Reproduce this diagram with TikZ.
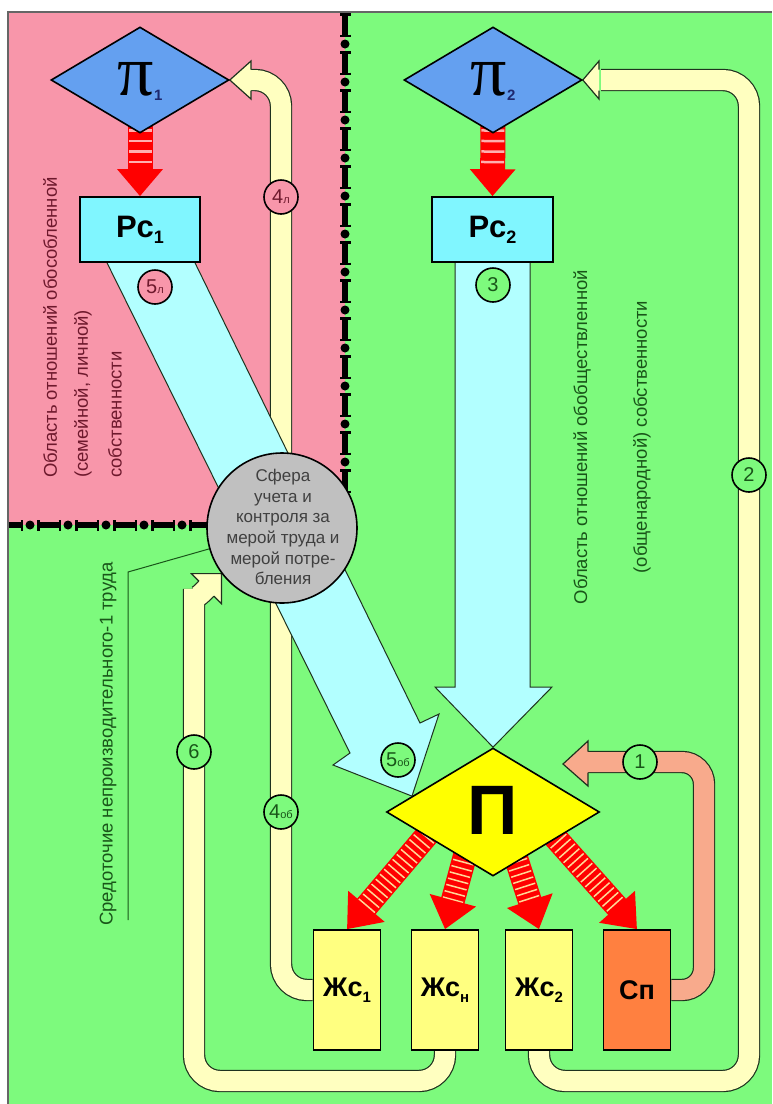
\documentclass[tikz,border=0pt]{standalone}
\usepackage{fontspec}
\setmainfont{Liberation Sans}
\newfontfamily\pifont{Liberation Serif}
\usetikzlibrary{shapes.geometric,arrows.meta,calc}
\pgfdeclarelayer{bg}
\pgfdeclarelayer{mid}
\pgfsetlayers{bg,mid,main}
\definecolor{pinkbg}{RGB}{248,150,170}
\definecolor{greenbg}{RGB}{125,250,125}
\definecolor{piblue}{RGB}{100,160,240}
\definecolor{rccyan}{RGB}{128,246,255}
\definecolor{lightcyan}{RGB}{178,255,255}
\definecolor{bandyellow}{RGB}{255,255,192}
\definecolor{salmonband}{RGB}{248,170,140}
\definecolor{zhyellow}{RGB}{255,255,128}
\definecolor{sporange}{RGB}{255,128,64}
\definecolor{pyellow}{RGB}{255,255,0}
\definecolor{sphgrey}{RGB}{192,192,192}
\definecolor{darkredtext}{RGB}{110,25,45}
\definecolor{darkgreentext}{RGB}{25,85,25}
\definecolor{arrowred}{RGB}{255,0,0}
\definecolor{navysub}{RGB}{30,40,110}
\definecolor{bandedge}{RGB}{30,50,30}
\definecolor{stripepink}{RGB}{255,175,175}
\definecolor{stripeyellow}{RGB}{255,215,150}
\begin{document}
\begin{tikzpicture}[x=1pt,y=-1pt,
 diam/.style={diamond, draw=black, line width=1.6pt, fill=piblue, inner sep=0pt, minimum width=178pt, minimum height=106pt},
 rcbox/.style={rectangle, draw=black, line width=1.6pt, fill=rccyan, minimum width=120pt, minimum height=65pt, inner sep=0pt, font=\bfseries\fontsize{31}{31}\selectfont},
 zhbox/.style={rectangle, draw=black, line width=1.6pt, fill=zhyellow, minimum width=67pt, minimum height=120pt, inner sep=0pt, font=\bfseries\fontsize{27}{27}\selectfont},
 band/.style={draw=bandedge, line width=1.2pt, double=bandyellow, double distance=20pt, rounded corners=26pt},
 bandhead/.style={fill=bandyellow, draw=bandedge, line width=1.2pt, line join=miter},
 bluearrow/.style={fill=lightcyan, draw=bandedge, line width=1pt, line join=miter},
 lbl/.style={circle, draw=black, line width=1.6pt, minimum size=34pt, inner sep=0pt, font=\fontsize{20}{20}\selectfont},
 redshaft/.style={draw=arrowred, line width=24pt, -{Triangle[length=30pt,width=46pt]}},
 stripes/.style={draw=#1, line width=21pt, dash pattern=on 1.5pt off 5pt},
 regiontext/.style={rotate=90, anchor=west, font=\fontsize{18.5}{18.5}\selectfont, inner sep=0pt},
 chainbar/.style={black, line width=6pt, dash pattern=on 24pt off 14pt, dash phase=#1},
 chainbar/.default=0pt,
 chainserif/.style={black, line width=11pt, dash pattern=on 2.5pt off 19pt on 2.5pt off 14pt, dash phase=#1},
 chainserif/.default=0pt,
 chaindot/.style={black, line width=9pt, line cap=round, dash pattern=on 0pt off 38pt, dash phase=#1},
 chaindot/.default=7pt]
\useasboundingbox (0,0) rectangle (772,1104);

% ---------- main nodes ----------
\node[diam] (pi1) at (140,80) {};
\node[anchor=base, inner sep=0pt] at (140,95) {\pifont\fontsize{72}{72}\selectfont π\raisebox{-5pt}{\normalfont\bfseries\fontsize{15}{15}\selectfont\color{navysub}1}};
\node[diam] (pi2) at (493,80) {};
\node[anchor=base, inner sep=0pt] at (493,95) {\pifont\fontsize{72}{72}\selectfont π\raisebox{-5pt}{\normalfont\bfseries\fontsize{15}{15}\selectfont\color{navysub}2}};
\node[rcbox] (rc1) at (140,229.5) {Рс\raisebox{-6pt}{\fontsize{18}{18}\selectfont 1}};
\node[rcbox, minimum width=121pt] (rc2) at (492.5,229.5) {Рс\raisebox{-6pt}{\fontsize{18}{18}\selectfont 2}};
\node[diamond, draw=black, line width=1.6pt, fill=pyellow, inner sep=0pt, minimum width=213pt, minimum height=128pt] (P) at (493,812) {};
\node[font=\bfseries\fontsize{70}{70}\selectfont, inner sep=0pt] at (493,810) {П};
\node[zhbox] (zh1) at (347,990) {Жс\raisebox{-6pt}{\fontsize{15}{15}\selectfont 1}};
\node[zhbox] (zhn) at (445,990) {Жс\raisebox{-6pt}{\fontsize{15}{15}\selectfont н}};
\node[zhbox] (zh2) at (539,990) {Жс\raisebox{-6pt}{\fontsize{15}{15}\selectfont 2}};
\node[zhbox, fill=sporange] (sp) at (637,990) {Сп};
\node[circle, draw=black, line width=1.6pt, fill=sphgrey, minimum size=150pt, inner sep=0pt] (sphere) at (282,528) {};
\node[align=center, inner sep=0pt, text=black!75, font=\fontsize{17}{20.7}\selectfont] at (283,527) {Сфера\\учета и\\контроля за\\мерой труда и\\мерой потре-\\бления};
\coordinate (leadend) at (128,920);

% ---------- background ----------
\begin{pgfonlayer}{bg}
\fill[white] (0,0) rectangle (772,1104);
\fill[greenbg] (8,12) rectangle (772,1104);
\fill[pinkbg] (8,12) rectangle (345,525);
\draw[black!60, line width=2pt] (8,1104) -- (8,12) -- (772,12);
\draw[chainbar] (345,13) -- (345,530);
\draw[chainserif] (345,13) -- (345,530);
\draw[chaindot] (345,13) -- (345,530);
\draw[chainbar=10pt] (9,525) -- (240,525);
\draw[chainserif=10pt] (9,525) -- (240,525);
\draw[chaindot=17pt] (9,525) -- (240,525);
\node[regiontext, text=darkredtext] at (50,478) {Область отношений обособленной};
\node[regiontext, text=darkredtext] at (83,478) {(семейной, личной)};
\node[regiontext, text=darkredtext] at (115,478) {собственности};
\node[regiontext, anchor=center, text=darkgreentext] at (582,437) {Область отношений обобществленной};
\node[regiontext, anchor=center, text=darkgreentext] at (642,437) {(общенародной) собственности};
\node[regiontext, anchor=center, text=darkgreentext] at (108,744) {Средоточие непроизводительного-1 труда};
\draw[darkgreentext, line width=1pt] (sphere.196) -- (128,572) -- (leadend);
\end{pgfonlayer}

% ---------- connectors ----------
\begin{pgfonlayer}{mid}
% band 4
\draw[band] (zh1.west) -- (281,990) -- (281,80) -- (249,80);
\filldraw[bandhead] (251,69.5) -- (251,61) -- (pi1.east) -- (251,99) -- (251,90.5);
% band 6
\draw[band] (zhn.south) -- (445,1081) -- (194,1081) -- (194,615) .. controls (194,602) and (199,596) .. (207,588);
\filldraw[bandhead] ($(sphere.217)+(-22.5,7.5)$) -- ($(sphere.217)+(-30,0)$) -- (sphere.217) -- ($(sphere.217)+(0,30)$) -- ($(sphere.217)+(-7.5,22.5)$);
% band 2
\draw[band] (zh2.south) -- (539,1081) -- (749,1081) -- (749,80) -- (601,80);
\filldraw[bandhead] (599,69.5) -- (599,61) -- (pi2.east) -- (599,99) -- (599,90.5);
% band 1
\draw[band, double=salmonband, rounded corners=22pt] (sp.east) -- (704,990) -- (704,762) -- (586,762);
\filldraw[bandhead, fill=salmonband] (588,751.5) -- (588,741) -- (563,764) -- (588,786) -- (588,772.5);
% blue arrow 3
\filldraw[bluearrow] ($(rc2.south)+(-37.5,0)$) -- (455,687) -- (435,687) -- (P.north) -- (552,687) -- (530,687) -- ($(rc2.south)+(37.5,0)$);
% blue arrow 5
\filldraw[bluearrow] ($(rc1.south)+(-33,0)$) -- (350,753) -- (333,765) -- ($(P.west)!0.245!(P.north)$) -- (439,714) -- (420,723) -- ($(rc1.south)+(55,0)$);
% red striped arrows
\draw[redshaft, -{Triangle[length=27pt,width=44pt]}, line width=25pt] ($(pi1.south)+(0,-15)$) -- (rc1.north);
\draw[stripes=stripepink, line width=23pt, dash pattern=on 2.5pt off 8pt, shorten >=27pt] ($(pi1.south)+(0,-15)$) -- (rc1.north);
\draw[redshaft, -{Triangle[length=27pt,width=44pt]}, line width=25pt] ($(pi2.south)+(0,-15)$) -- (rc2.north);
\draw[stripes=stripepink, line width=23pt, dash pattern=on 2.5pt off 8pt, shorten >=27pt] ($(pi2.south)+(0,-15)$) -- (rc2.north);
\draw[redshaft] (439,821) -- (zh1.north);
\draw[stripes=stripeyellow, shorten >=30pt] (439,821) -- (zh1.north);
\draw[redshaft] (472,830) -- (zhn.north);
\draw[stripes=stripeyellow, shorten >=30pt] (472,830) -- (zhn.north);
\draw[redshaft] (507,830) -- (zh2.north);
\draw[stripes=stripeyellow, shorten >=30pt] (507,830) -- (zh2.north);
\draw[redshaft] (545,826) -- (sp.north);
\draw[stripes=stripeyellow, shorten >=30pt] (545,826) -- (sp.north);
\end{pgfonlayer}

% ---------- labels ----------
\node[lbl, fill=pinkbg, text=darkredtext] (l4l) at (281,197) {4{\fontsize{11}{11}\selectfont л}};
\node[lbl, fill=pinkbg, text=darkredtext] (l5l) at (155,287) {5{\fontsize{11}{11}\selectfont л}};
\node[lbl, fill=greenbg, text=darkgreentext] (l3) at (493,285) {3};
\node[lbl, fill=greenbg, text=darkgreentext] (l2) at (749,475) {2};
\node[lbl, fill=greenbg, text=darkgreentext] (l1) at (640,762) {1};
\node[lbl, fill=greenbg, text=darkgreentext] (l6) at (194,752) {6};
\node[lbl, fill=greenbg, text=darkgreentext] (l4ob) at (281,812) {4{\fontsize{11}{11}\selectfont об}};
\node[lbl, fill=greenbg, text=darkgreentext] (l5ob) at (398,760) {5{\fontsize{11}{11}\selectfont об}};
\end{tikzpicture}
\end{document}
